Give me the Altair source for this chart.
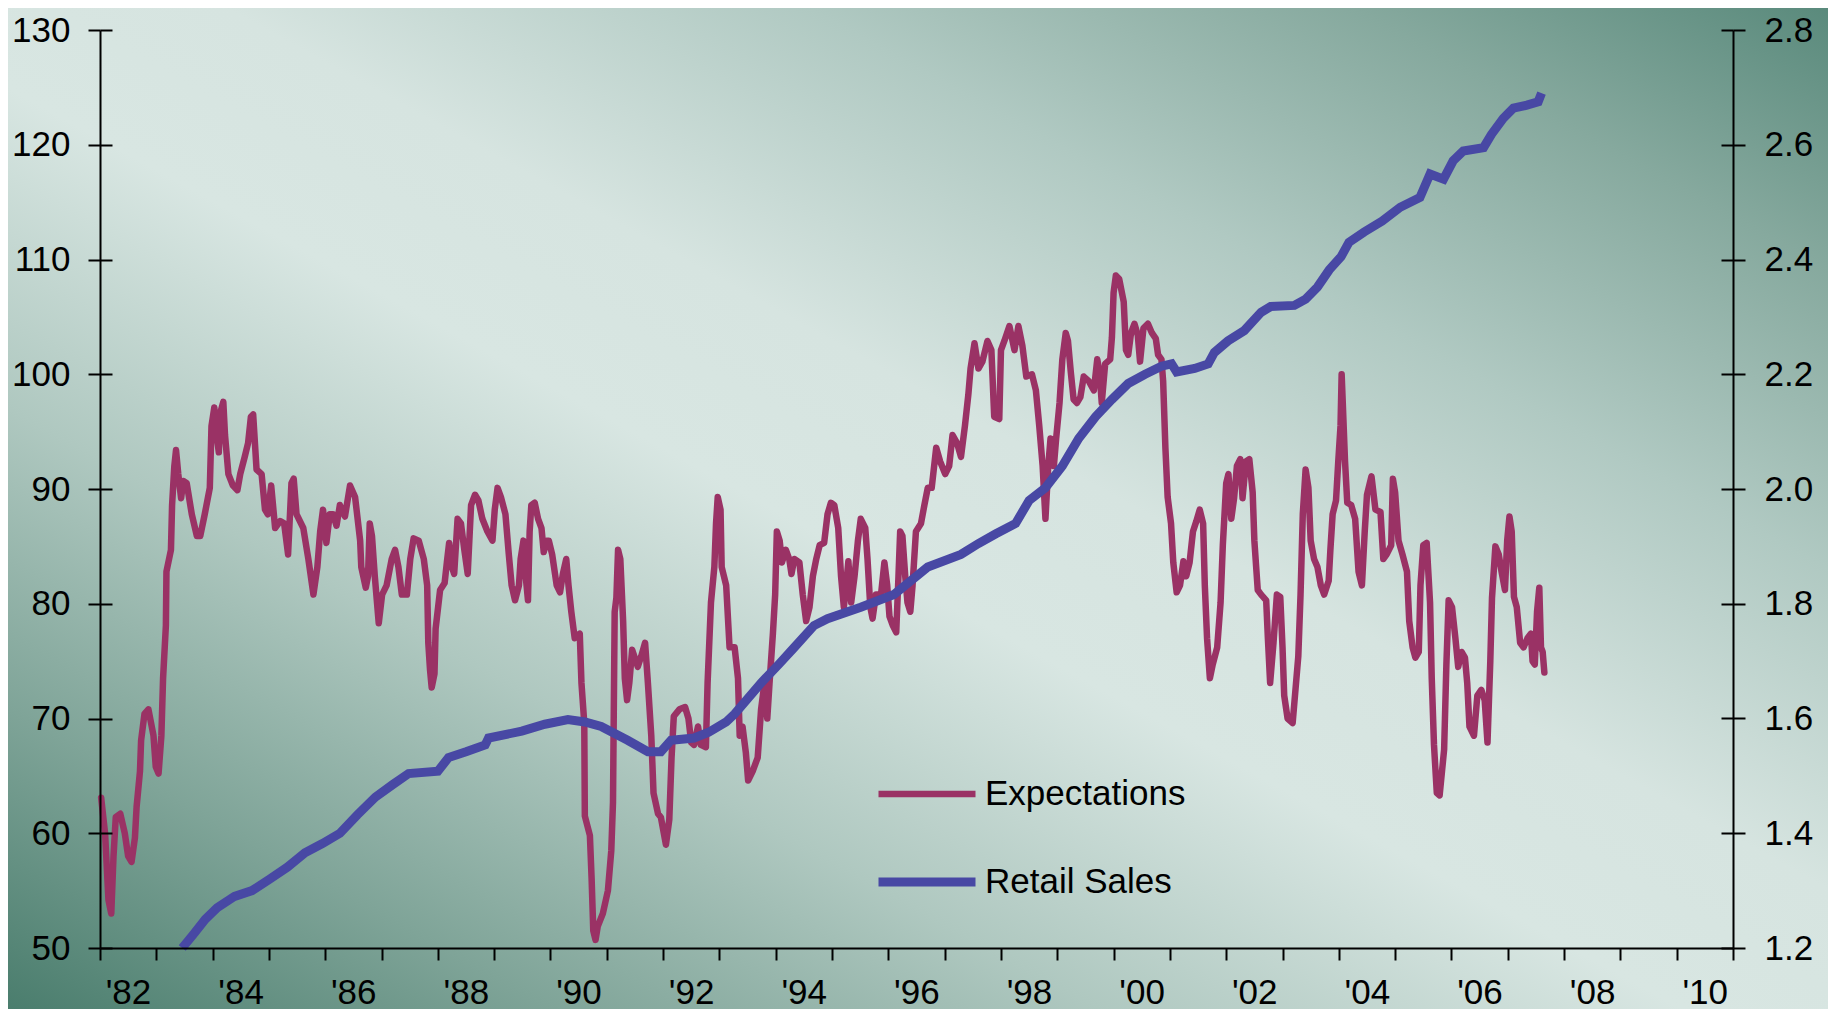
import altair as alt
import pandas as pd

# ---------------- data ----------------
exp_year = [
    1982.02, 1982.09, 1982.15, 1982.20, 1982.24, 1982.28, 1982.36, 1982.44, 1982.50, 1982.56,
    1982.62, 1982.65, 1982.71, 1982.73, 1982.79, 1982.86, 1982.95, 1982.99, 1983.04, 1983.09,
    1983.12, 1983.17, 1983.18, 1983.26, 1983.28, 1983.32, 1983.35, 1983.39, 1983.44, 1983.48,
    1983.54, 1983.63, 1983.72, 1983.78, 1983.86, 1983.95, 1983.98, 1984.03, 1984.07, 1984.11,
    1984.14, 1984.19, 1984.22, 1984.28, 1984.36, 1984.44, 1984.49, 1984.57, 1984.63, 1984.68,
    1984.72, 1984.78, 1984.87, 1984.93, 1984.98, 1985.04, 1985.11, 1985.20, 1985.27, 1985.34,
    1985.40, 1985.44, 1985.49, 1985.61, 1985.70, 1985.79, 1985.86, 1985.91, 1985.96, 1986.02,
    1986.08, 1986.14, 1986.20, 1986.26, 1986.35, 1986.44, 1986.53, 1986.62, 1986.64, 1986.72,
    1986.76, 1986.79, 1986.83, 1986.88, 1986.95, 1987.01, 1987.09, 1987.18, 1987.24,
    1987.30, 1987.36, 1987.45, 1987.51, 1987.57, 1987.66, 1987.75, 1987.81, 1987.83, 1987.86,
    1987.89, 1987.94, 1987.96, 1988.04, 1988.12, 1988.16, 1988.20, 1988.25, 1988.29, 1988.35,
    1988.41, 1988.47, 1988.53, 1988.59, 1988.66, 1988.72, 1988.79, 1988.88, 1988.97, 1989.01,
    1989.06, 1989.12, 1989.20, 1989.26, 1989.31, 1989.37, 1989.44, 1989.47, 1989.52, 1989.56,
    1989.60, 1989.63, 1989.66, 1989.72, 1989.78, 1989.84, 1989.88, 1989.93, 1989.97, 1990.03,
    1990.11, 1990.17, 1990.22, 1990.28, 1990.32, 1990.37, 1990.43, 1990.52, 1990.55, 1990.60,
    1990.61, 1990.70, 1990.73, 1990.76, 1990.80, 1990.84, 1990.93, 1991.02, 1991.08, 1991.11,
    1991.14, 1991.17, 1991.20, 1991.24, 1991.29, 1991.32, 1991.36, 1991.40, 1991.45, 1991.49,
    1991.55, 1991.61, 1991.68, 1991.73, 1991.79, 1991.83, 1991.91, 1991.96, 1992.05, 1992.11,
    1992.15, 1992.19, 1992.29, 1992.39, 1992.45, 1992.50, 1992.55,
    1992.62, 1992.67, 1992.76, 1992.79, 1992.85, 1992.91, 1992.94, 1992.97, 1993.02, 1993.04,
    1993.12, 1993.18, 1993.27, 1993.33, 1993.36, 1993.41, 1993.47, 1993.51, 1993.59, 1993.68,
    1993.74, 1993.80, 1993.85, 1993.89, 1993.95, 1993.99, 1994.02, 1994.07, 1994.11, 1994.18,
    1994.24, 1994.28, 1994.33, 1994.42, 1994.48, 1994.54, 1994.60, 1994.66, 1994.72, 1994.78,
    1994.86, 1994.92, 1994.98, 1995.04, 1995.11, 1995.16, 1995.21, 1995.25, 1995.29, 1995.34,
    1995.40, 1995.46, 1995.51, 1995.59, 1995.63, 1995.68, 1995.72, 1995.78, 1995.87, 1995.93,
    1995.98, 1996.02, 1996.08, 1996.14, 1996.18, 1996.21, 1996.25, 1996.30, 1996.34, 1996.39,
    1996.43, 1996.49, 1996.58, 1996.64, 1996.70, 1996.77, 1996.85, 1996.92, 1997.01, 1997.08,
    1997.14, 1997.22, 1997.29, 1997.36, 1997.42, 1997.46, 1997.53, 1997.60, 1997.67, 1997.76,
    1997.83, 1997.88,
    1997.97, 1998.00, 1998.06, 1998.15, 1998.24, 1998.31, 1998.38, 1998.45, 1998.55, 1998.62,
    1998.68, 1998.74, 1998.79, 1998.84, 1998.88, 1998.94, 1998.98, 1999.04, 1999.09, 1999.15,
    1999.19, 1999.24, 1999.29, 1999.35, 1999.41, 1999.47, 1999.56, 1999.65, 1999.71, 1999.75,
    1999.79, 1999.85, 1999.94, 1999.97, 2000.00, 2000.04, 2000.10, 2000.18, 2000.22, 2000.26,
    2000.31, 2000.37, 2000.43, 2000.47, 2000.53, 2000.61, 2000.68, 2000.75, 2000.79, 2000.85,
    2000.88, 2000.92, 2000.96, 2001.02, 2001.06, 2001.12, 2001.18, 2001.24, 2001.29, 2001.35,
    2001.41, 2001.47, 2001.53, 2001.59, 2001.62, 2001.66, 2001.71, 2001.76, 2001.84, 2001.90,
    2001.94, 2002.00, 2002.04, 2002.09, 2002.14, 2002.19, 2002.25, 2002.29, 2002.35, 2002.41,
    2002.47, 2002.50, 2002.56, 2002.62, 2002.71, 2002.74, 2002.78, 2002.84, 2002.90, 2002.96,
    2003.00, 2003.03, 2003.09, 2003.18,
    2003.28, 2003.32, 2003.36, 2003.41, 2003.46, 2003.50, 2003.56, 2003.62, 2003.68, 2003.74,
    2003.82, 2003.85, 2003.89, 2003.95, 2003.99, 2004.03, 2004.05, 2004.07, 2004.11, 2004.15,
    2004.22, 2004.29, 2004.35, 2004.41, 2004.46, 2004.50, 2004.58, 2004.65, 2004.74, 2004.79,
    2004.85, 2004.93, 2004.96, 2005.00, 2005.06, 2005.13, 2005.21, 2005.25, 2005.31, 2005.36,
    2005.42, 2005.45, 2005.50, 2005.56, 2005.62, 2005.65, 2005.69, 2005.74, 2005.79, 2005.87,
    2005.91, 2005.95, 2006.01, 2006.07, 2006.12, 2006.18, 2006.24, 2006.28, 2006.32, 2006.40,
    2006.46, 2006.53, 2006.59, 2006.64, 2006.69, 2006.72, 2006.78, 2006.84, 2006.89, 2006.95,
    2006.99, 2007.03, 2007.07, 2007.11, 2007.16, 2007.22, 2007.28, 2007.35, 2007.41, 2007.44,
    2007.48, 2007.52, 2007.56, 2007.59, 2007.62, 2007.65,
]
exp_value = [
    63.1, 60.0, 54.2, 53.0, 58.0, 61.4, 61.7, 60.0, 58.0, 57.5,
    59.6, 62.3, 65.4, 68.1, 70.4, 70.8, 68.5, 65.8, 65.2, 68.5,
    73.5, 78.1, 82.8, 84.7, 88.6, 92.0, 93.4, 91.3, 89.2, 90.7,
    90.5, 87.8, 85.9, 85.9, 87.8, 90.1, 95.5, 97.1, 94.7, 93.2,
    96.7, 97.6, 94.7, 91.3, 90.3, 89.9, 91.3, 92.8, 94.0, 96.3,
    96.5, 91.7, 91.3, 88.2, 87.8, 90.3, 86.6, 87.2, 87.0, 84.3,
    90.5, 90.9, 87.8, 86.6, 83.9, 80.8, 83.2, 86.3, 88.2, 85.3,
    87.8, 87.8, 86.8, 88.6, 87.6, 90.3, 89.3, 85.5, 83.2, 81.4,
    82.4, 87.0, 85.9, 82.4, 78.3, 80.8, 81.6, 83.9, 84.7,
    83.2, 80.8, 80.8, 83.9, 85.7, 85.5, 83.9, 81.6, 76.6, 74.3,
    72.7, 73.9, 77.8, 81.2, 81.8, 83.6, 85.3, 83.2, 82.6, 87.4,
    87.0, 84.7, 82.6, 88.6, 89.5, 89.0, 87.4, 86.3, 85.5, 88.2,
    90.1, 89.3, 87.8, 84.3, 81.6, 80.3, 81.6, 83.9, 85.5, 82.4,
    80.3, 86.3, 88.6, 88.8, 87.4, 86.6, 84.5, 85.5, 85.5, 84.3,
    81.6, 81.0, 82.6, 83.9, 81.6, 79.3, 77.0, 77.4, 73.1, 69.6,
    61.5, 59.8, 56.1, 51.5, 50.7, 51.9, 53.0, 55.0, 58.5, 62.7,
    79.3, 80.5, 84.7, 83.9, 78.5, 73.5, 71.6, 73.1, 76.0, 75.4,
    74.5, 75.4, 76.6, 73.1, 68.5, 63.5, 61.7, 61.4, 59.0, 61.2,
    66.6, 70.2, 70.8, 71.0, 70.0, 67.9, 67.7,
    69.3, 67.7, 67.5, 73.1, 80.1, 83.2, 87.0, 89.3, 88.2, 83.2,
    81.6, 76.2, 76.2, 73.5, 68.5, 69.3, 67.0, 64.6, 65.4, 66.6,
    70.8, 73.1, 70.0, 73.1, 77.4, 80.8, 86.3, 85.5, 83.6, 84.7,
    83.9, 82.6, 83.9, 83.6, 80.8, 78.5, 79.7, 82.4, 83.9, 85.1,
    85.3, 87.8, 88.8, 88.6, 86.6, 82.4, 79.7, 81.6, 83.7, 80.1,
    82.4, 85.5, 87.4, 86.6, 83.9, 79.7, 78.7, 80.8, 80.8, 83.6,
    81.6, 78.9, 78.1, 77.5, 82.4, 86.3, 85.9, 82.4, 80.1, 79.3,
    81.6, 86.3, 87.0, 88.6, 90.1, 90.1, 93.6, 92.4, 91.3, 92.0,
    94.7, 94.0, 92.8, 95.5, 98.2, 100.5, 102.7, 100.5, 101.1, 102.9,
    102.1, 96.3,
    96.1, 102.1, 102.9, 104.2, 102.1, 104.2, 102.5, 99.8, 100.0, 98.6,
    95.5, 92.0, 87.4, 92.0, 94.4, 92.0, 94.4, 97.5, 101.3, 103.6,
    102.9, 100.2, 97.8, 97.5, 98.0, 99.8, 99.4, 98.6, 101.3, 100.2,
    97.5, 100.9, 101.3, 103.2, 107.1, 108.6, 108.3, 106.3, 102.1, 101.7,
    103.6, 104.4, 103.4, 101.1, 104.0, 104.4, 103.6, 103.1, 101.7, 101.3,
    99.4, 93.6, 89.3, 87.0, 83.6, 81.0, 81.6, 83.7, 82.4, 83.6,
    86.3, 87.2, 88.2, 87.0, 81.6, 77.0, 73.5, 74.7, 76.2, 80.1,
    85.1, 90.5, 91.3, 87.4, 89.2, 92.0, 92.6, 89.2, 92.4, 92.6,
    89.7, 85.5, 81.2, 80.8, 80.3, 77.0, 73.1, 76.6, 80.8, 80.6,
    76.2, 72.0, 70.0, 69.6,
    75.4, 80.8, 87.8, 91.7, 90.1, 85.5, 83.9, 83.2, 81.6, 80.8,
    82.0, 84.7, 87.8, 89.0, 92.4, 95.5, 100.0, 97.5, 92.4, 88.8,
    88.6, 87.4, 82.8, 81.6, 86.3, 89.5, 91.1, 88.2, 88.0, 83.9,
    84.3, 85.1, 90.9, 89.7, 85.5, 84.3, 82.8, 78.5, 76.2, 75.3,
    75.8, 81.6, 85.1, 85.3, 80.1, 73.5, 67.7, 63.5, 63.3, 67.3,
    74.7, 80.3, 79.7, 77.0, 74.5, 75.8, 75.3, 73.1, 69.3, 68.5,
    72.0, 72.5, 71.6, 67.9, 75.0, 80.5, 85.0, 84.3, 82.8, 81.2,
    85.5, 87.6, 86.3, 80.6, 79.7, 76.6, 76.2, 77.0, 77.4, 75.0,
    74.7, 79.3, 81.4, 76.2, 75.8, 74.0,
]

retail_year = [
    1983.46, 1983.66, 1983.87, 1984.08, 1984.39, 1984.70, 1985.01, 1985.33, 1985.64, 1985.95,
    1986.26, 1986.57, 1986.89, 1987.20, 1987.48, 1988.00, 1988.19, 1988.50, 1988.84, 1988.90,
    1989.49, 1989.90, 1990.31, 1990.61, 1990.90, 1991.37, 1991.73, 1991.96, 1992.14, 1992.55,
    1992.81, 1993.12, 1993.27, 1993.74, 1994.06, 1994.33, 1994.68, 1994.92, 1995.51, 1996.10,
    1996.40, 1996.70, 1997.29, 1997.60, 1997.91, 1998.26, 1998.50, 1998.79, 1999.09, 1999.38,
    1999.68, 1999.97, 2000.26, 2000.56, 2000.85, 2001.03, 2001.12, 2001.44, 2001.68, 2001.79,
    2002.03, 2002.32, 2002.62, 2002.79, 2003.21, 2003.41, 2003.62, 2003.83, 2004.04, 2004.18,
    2004.45, 2004.77, 2005.09, 2005.44, 2005.62, 2005.86, 2006.03, 2006.21, 2006.57, 2006.71,
    2006.92, 2007.10, 2007.34, 2007.54, 2007.60,
]
retail_value = [
    1.200, 1.224, 1.250, 1.270, 1.290, 1.300, 1.320, 1.341, 1.366, 1.382,
    1.400, 1.432, 1.463, 1.485, 1.504, 1.508, 1.532, 1.542, 1.554, 1.566,
    1.578, 1.590, 1.598, 1.594, 1.586, 1.562, 1.542, 1.542, 1.562, 1.566,
    1.576, 1.594, 1.608, 1.662, 1.695, 1.724, 1.762, 1.774, 1.794, 1.816,
    1.840, 1.864, 1.886, 1.905, 1.922, 1.940, 1.980, 2.002, 2.040, 2.088,
    2.126, 2.156, 2.184, 2.200, 2.214, 2.218, 2.204, 2.210, 2.218, 2.238,
    2.258, 2.276, 2.308, 2.318, 2.320, 2.331, 2.352, 2.382, 2.405, 2.430,
    2.448, 2.467, 2.491, 2.508, 2.549, 2.540, 2.572, 2.589, 2.595, 2.618,
    2.646, 2.664, 2.669, 2.675, 2.690,
]

series_names = ["Expectations", "Retail Sales"]
series_colors = ["#9a3265", "#4848a4"]
left_ticks = [50, 60, 70, 80, 90, 100, 110, 120, 130]
right_ticks = [1.2, 1.4, 1.6, 1.8, 2.0, 2.2, 2.4, 2.6, 2.8]
year_ticks = list(range(1982, 2012))

exp_df = pd.DataFrame({"year": exp_year, "value": exp_value, "series": series_names[0]})
ret_df = pd.DataFrame({"year": retail_year, "value": retail_value, "series": series_names[1]})
bg_df = pd.DataFrame({"k": [0]})

# ---------------- layout ----------------
W, H = 1633, 918
PAD = {"left": 92, "top": 22, "right": 95, "bottom": 61}
FONT = "Liberation Sans"

gradient = {
    "gradient": "linear", "x1": 0, "y1": 1, "x2": 1, "y2": 0,
    "stops": [
        {"offset": 0.0, "color": "#4a7d6d"},
        {"offset": 0.15, "color": "#7fa498"},
        {"offset": 0.3, "color": "#afc8c0"},
        {"offset": 0.46, "color": "#d8e6e2"},
        {"offset": 0.56, "color": "#d6e4e0"},
        {"offset": 0.72, "color": "#b0c9c2"},
        {"offset": 0.87, "color": "#86a99e"},
        {"offset": 1.0, "color": "#5a8a7c"},
    ],
}

x_scale = alt.Scale(domain=[1982, 2011], nice=False, zero=False)
x_axis = alt.Axis(
    orient="bottom", values=year_ticks, title=None, grid=False,
    labelExpr="datum.value % 2 == 0 && datum.value < 2011 ? \"'\" + substring(toString(datum.value), 2, 4) : ''",
    labelOffset=28, labelFlush=False, labelOverlap=False, labelBound=False,
    tickSize=12, labelPadding=15, zindex=1,
)
left_scale = alt.Scale(domain=[50, 130], nice=False, zero=False)
right_scale = alt.Scale(domain=[1.2, 2.8], nice=False, zero=False)

color_scale = alt.Scale(domain=series_names, range=series_colors)
sw_scale = alt.Scale(domain=series_names, range=[6.5, 9])
legend = alt.Legend(
    orient="none", legendX=774, legendY=712, title=None, direction="vertical",
    labelFont=FONT, labelFontSize=35, labelColor="black", labelLimit=0,
    symbolSize=9409, symbolType="stroke", labelOffset=5, rowPadding=17, padding=0,
)

bg = alt.Chart(bg_df).mark_rect(fill=gradient).encode(
    x=alt.value(-PAD["left"]), x2=alt.value(W + PAD["right"]),
    y=alt.value(-PAD["top"]), y2=alt.value(H + PAD["bottom"]),
)

exp_line = alt.Chart(exp_df).mark_line(strokeCap="round", strokeJoin="round").encode(
    x=alt.X("year:Q", scale=x_scale, axis=x_axis),
    y=alt.Y("value:Q", scale=left_scale, axis=alt.Axis(
        orient="left", values=left_ticks, title=None, grid=False,
        tickSize=12, labelPadding=18, zindex=1)),
    color=alt.Color("series:N", scale=color_scale, legend=legend),
    strokeWidth=alt.StrokeWidth("series:N", scale=sw_scale, legend=legend),
)

ret_line = alt.Chart(ret_df).mark_line(strokeJoin="miter").encode(
    x=alt.X("year:Q", scale=x_scale, axis=x_axis),
    y=alt.Y("value:Q", scale=right_scale, axis=alt.Axis(
        orient="right", values=right_ticks, format=".1f", title=None, grid=False,
        tickSize=12, labelPadding=19, zindex=1)),
    color=alt.Color("series:N", scale=color_scale, legend=legend),
    strokeWidth=alt.StrokeWidth("series:N", scale=sw_scale, legend=legend),
)

# inward halves of the crossing tick marks
inner_left = alt.Chart(exp_df).mark_line(strokeOpacity=0).encode(
    x=alt.X("year:Q", scale=x_scale, axis=x_axis),
    y=alt.Y("value:Q", scale=left_scale, axis=alt.Axis(
        orient="right", offset=-W, values=left_ticks, labels=False, domain=False,
        title=None, grid=False, tickSize=12, zindex=1)),
)
inner_right = alt.Chart(ret_df).mark_line(strokeOpacity=0).encode(
    x=alt.X("year:Q", scale=x_scale, axis=x_axis),
    y=alt.Y("value:Q", scale=right_scale, axis=alt.Axis(
        orient="left", offset=-W, values=right_ticks, labels=False, domain=False,
        title=None, grid=False, tickSize=12, zindex=1)),
)

chart = alt.layer(bg, exp_line, ret_line, inner_left, inner_right).resolve_scale(
    y="independent"
).properties(
    width=W, height=H,
    autosize=alt.AutoSizeParams(type="none"),
    padding=PAD,
).configure(
    background="#b7cdc6",
).configure_view(
    stroke=None,
).configure_axis(
    labelFont=FONT, labelFontSize=35, labelColor="black",
    domainColor="black", domainWidth=2, tickColor="black", tickWidth=2,
)

chart.save("out.html", embed_options={"renderer": "svg", "actions": False})
